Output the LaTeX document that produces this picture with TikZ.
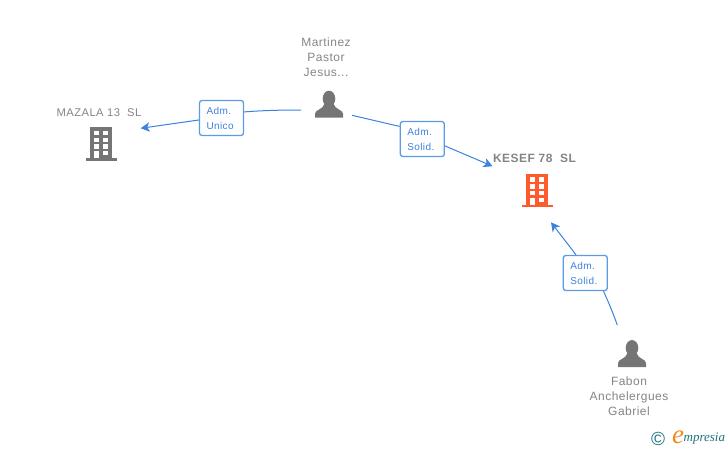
\documentclass[tikz,border=0pt]{standalone}
\usepackage{fontspec}
\setmainfont{Liberation Sans}
\newfontfamily\spacedfont[LetterSpace=4]{Liberation Sans}
\newfontfamily\logofont{Liberation Serif}
\usetikzlibrary{arrows.meta}
\definecolor{txtgrey}{HTML}{858585}
\definecolor{icongrey}{HTML}{757575}
\definecolor{iconorange}{HTML}{FF5A2B}
\definecolor{linkblue}{HTML}{3C82DE}
\definecolor{boxblue}{HTML}{5B9BE6}
\definecolor{logoteal}{HTML}{1F6F80}
\definecolor{logoorange}{HTML}{F28A1C}
\tikzset{
  nametext/.style={text=txtgrey,font=\spacedfont\fontsize{12}{15}\selectfont,align=center,inner sep=0pt},
  rolebox/.style={draw=boxblue,fill=white,rounded corners=2.5pt,line width=1.3pt,text=linkblue,
    font=\spacedfont\fontsize{10}{15}\selectfont,align=left,minimum width=44pt,minimum height=35pt,
    text width=30pt,inner xsep=7pt,inner ysep=0pt},
  linkline/.style={draw=linkblue,line width=1pt},
  arrowline/.style={linkline,-{Stealth[length=9pt,width=9.5pt,inset=2.5pt]}},
}
% #1 centre x, #2 top y, #3 colour
\newcommand{\buildingicon}[3]{
  \fill[#3] (#1-11,#2) rectangle (#1+11,#2+31);
  \fill[#3] (#1-15.5,#2+31) rectangle (#1+15.5,#2+33.5);
  \foreach \rowy in {3.7,10.7,17.3} {
    \fill[white] (#1-6.7,#2+\rowy) rectangle (#1-2,#2+\rowy+4.3);
    \fill[white] (#1+2.3,#2+\rowy) rectangle (#1+7.3,#2+\rowy+4.3);
  }
  \fill[white] (#1-6.7,#2+24) rectangle (#1-2,#2+31);
  \fill[white] (#1+2.3,#2+24) rectangle (#1+7.3,#2+28);
}
% #1 centre x, #2 top y
\newcommand{\personicon}[2]{
  \fill[icongrey] (#1,#2+8) ellipse (6.3 and 8);
  \fill[icongrey] (#1-14,#2+27) -- (#1-14,#2+23) .. controls (#1-14,#2+19) and (#1-6,#2+19) .. (#1-4.5,#2+13)
    -- (#1+4.5,#2+13) .. controls (#1+6,#2+19) and (#1+14,#2+19) .. (#1+14,#2+23) -- (#1+14,#2+27) -- cycle;
}
\begin{document}
\begin{tikzpicture}[x=1pt,y=-1pt]
\useasboundingbox (0,0) rectangle (728,450);

% icons
\buildingicon{101}{127}{icongrey}
\buildingicon{537}{173.5}{iconorange}
\personicon{329}{90.7}
\personicon{632}{340}

% names
\node[nametext,font=\spacedfont\fontsize{11.2}{15}\selectfont] (mazala) at (99,113) {MAZALA 13\ \ SL};
\node[nametext,font=\spacedfont\bfseries\fontsize{12}{15}\selectfont] (kesef) at (534.5,158.5) {KESEF 78\ \ SL};
\node[nametext] (martinez) at (326,57) {Martinez\\Pastor\\Jesus...};
\node[nametext] (fabon) at (629,396) {Fabon\\Anchelergues\\Gabriel};

% roles
\node[rolebox] (unico) at (221.5,118) {Adm.\\Unico};
\node[rolebox] (solidA) at (422.3,139) {Adm.\\Solid.};
\node[rolebox] (solidB) at (585.3,273) {Adm.\\Solid.};

% free ends
\coordinate (martinezL) at (301,110);
\coordinate (martinezR) at (352,115.3);
\coordinate (mazalaIn) at (140.7,128.3);
\coordinate (kesefIn) at (492.5,166.2);
\coordinate (kesefLow) at (551,222.3);
\coordinate (fabonOut) at (617.3,325);

% links
\draw[linkline] (martinezL) .. controls (280,110) and (262,110.5) .. (unico.15);
\draw[arrowline] (unico.185) -- (mazalaIn);
\draw[linkline] (martinezR) -- (solidA.151);
\draw[arrowline] (solidA.-17) -- (kesefIn);
\draw[linkline] (fabonOut) .. controls (613,313) and (608,301) .. (solidB.-45);
\draw[arrowline] (solidB.117) -- (kesefLow);

% logo
\node[text=logoteal,inner sep=0pt,font=\fontsize{19}{19}\selectfont] (copyr) at (658,438.5) {©};
\node[text=logoorange,inner sep=0pt,font=\logofont\itshape\fontsize{27}{27}\selectfont] (logoe) at (678,437) {e};
\node[text=logoteal,inner sep=0pt,anchor=west,font=\logofont\itshape\fontsize{13}{14}\selectfont] (logotxt) at (683.5,439) {mpresia};
\end{tikzpicture}
\end{document}
